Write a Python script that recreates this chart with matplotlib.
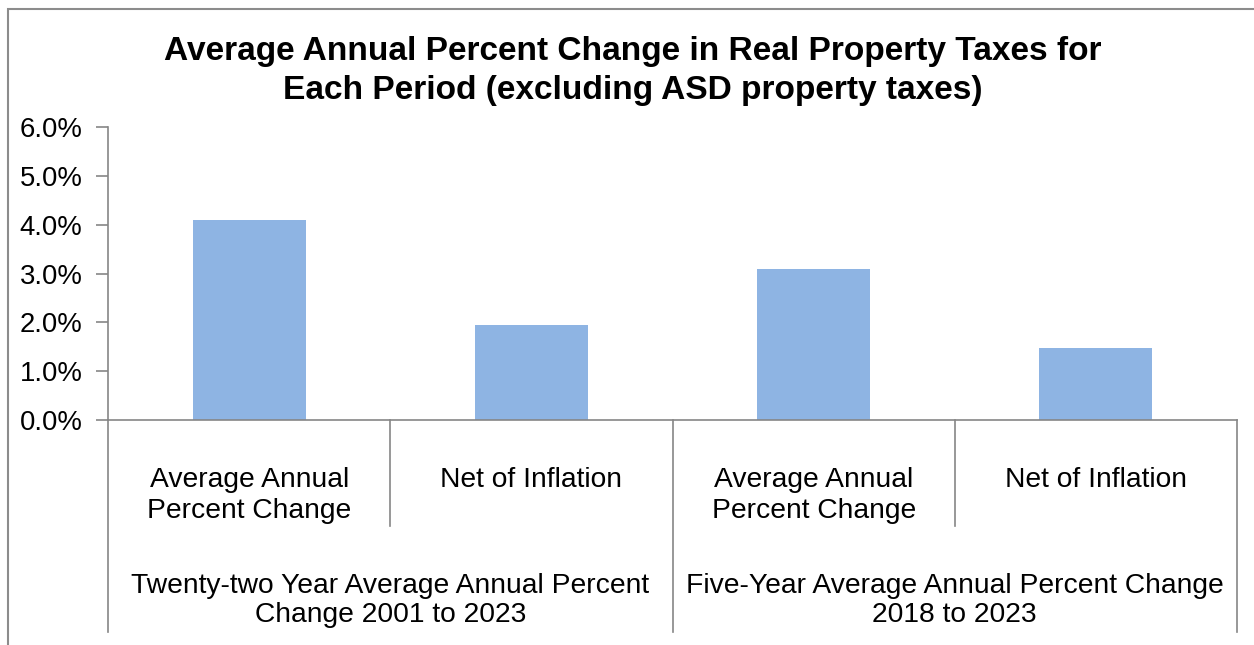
import matplotlib
matplotlib.use('Agg')
from matplotlib import pyplot as plt
from matplotlib.patches import Rectangle
from matplotlib.ticker import FuncFormatter

plt.rcParams['font.family'] = ['Liberation Sans', 'DejaVu Sans']

categories = ['Average Annual\nPercent Change', 'Net of Inflation',
              'Average Annual\nPercent Change', 'Net of Inflation']
groups = ['Twenty-two Year Average Annual Percent\nChange 2001 to 2023',
          'Five-Year Average Annual Percent Change\n2018 to 2023']
values = [4.10, 1.95, 3.09, 1.48]
yticks = [0, 1, 2, 3, 4, 5, 6]
title = ('Average Annual Percent Change in Real Property Taxes for\n'
         'Each Period (excluding ASD property taxes)')

W, H = 1254, 645
fig = plt.figure(figsize=(W / 100, H / 100), dpi=100)
ax = fig.add_axes([108 / W, (H - 420) / H, (1237 - 108) / W, (420 - 127) / H])

grey = '#868686'
x = list(range(len(values)))
ax.bar(x, values, width=0.4, color='#8EB4E3')
ax.set_xlim(-0.5, 3.5)
ax.set_ylim(0, 6)
ax.set_yticks(yticks)
ax.yaxis.set_major_formatter(FuncFormatter(lambda v, p: '%.1f%%' % v))
ax.tick_params(axis='y', labelsize=19.8, length=9, width=1.2, color=grey, pad=9.5)
ax.set_xticks([])
for s in ['top', 'right']:
    ax.spines[s].set_visible(False)
for s in ['left', 'bottom']:
    ax.spines[s].set_color(grey)
    ax.spines[s].set_linewidth(1.2)

tr = ax.get_xaxis_transform()
axh = 420 - 127
inner_y = -(526 - 420) / axh
outer_y = -(632 - 420) / axh
for b in [0.5, 2.5]:
    ax.plot([b, b], [0, inner_y], transform=tr, color=grey, lw=1.2, clip_on=False)
for b in [-0.5, 1.5, 3.5]:
    ax.plot([b, b], [0, outer_y], transform=tr, color=grey, lw=1.2, clip_on=False)


def put_lines(xpos, text, base_px, step_px, trans, **kw):
    # place each line at its own baseline (pixel rows from the top of the figure)
    for k, line in enumerate(text.split('\n')):
        yy = base_px + k * step_px
        if trans is tr:
            yy = -(yy - 420) / axh
        else:
            yy = 1 - yy / H
        ax.text(xpos, yy, line, transform=trans, ha='center', va='baseline', **kw)


for i, c in enumerate(categories):
    put_lines(i, c, 487, 31.5, tr, fontsize=20.3)
for g, lab in enumerate(groups):
    put_lines(2 * g + 0.5, lab, 593, 29, tr, fontsize=20.3)

put_lines(633 / W, title, 60, 39, fig.transFigure, fontsize=24.1, fontweight='bold')

fig.patches.append(Rectangle((8 / W, -0.1), 1.2, 1.1 - 9 / H, transform=fig.transFigure,
                             fill=False, edgecolor='#8c8c8c', lw=1.5))

fig.savefig('out.png', dpi=100)
